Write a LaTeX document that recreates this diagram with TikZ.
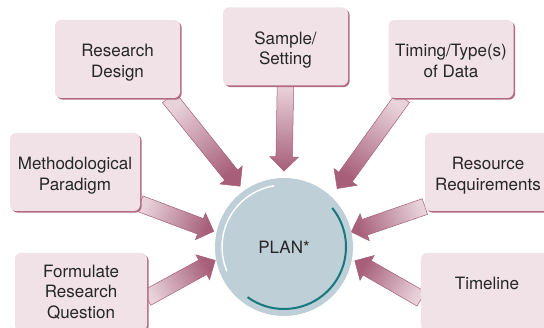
\documentclass[tikz,border=0pt]{standalone}
\usepackage{fontspec}
\setmainfont{TeX Gyre Heros}
\usetikzlibrary{calc,shapes.arrows,shadows,backgrounds}

\definecolor{boxfill}{HTML}{F0E2E6}
\definecolor{boxedge}{HTML}{B06A84}
\definecolor{arrdark}{HTML}{A65E79}
\definecolor{arrlight}{HTML}{E9D3DB}
\definecolor{planfill}{HTML}{BECFD7}
\definecolor{planarc}{HTML}{16797D}
\definecolor{ink}{HTML}{262626}

% block arrow from #1 (tail) to #2 (tip), kept behind the boxes
\newcommand\feedarrow[2]{%
  \begin{pgfonlayer}{background}
  \path let \p1=(#1), \p2=(#2), \n1={atan2(\y2-\y1,\x2-\x1)},
            \n2={veclen(\x2-\x1,\y2-\y1)} in
    node[feed, minimum height=\n2, rotate=\n1, shading angle=\n1+90]
      at ($(\p1)!.5!(\p2)$) {};
  \end{pgfonlayer}}

\begin{document}
\begin{tikzpicture}
   [x=1pt,y=1pt,
   every node/.style={text=ink, font=\fontsize{17}{20.5}\selectfont},
   topic/.style={rectangle, rounded corners=6pt, fill=boxfill, align=center,
     minimum width=125pt, minimum height=78pt, inner sep=0pt,
     drop shadow={shadow xshift=1.6pt, shadow yshift=-1.6pt, fill=boxedge, opacity=1}},
   twoline/.style={topic, text height=41pt, text depth=4pt},
   feed/.style={single arrow, draw=arrdark, line width=.5pt,
     left color=arrlight, right color=arrdark, inner xsep=0pt, inner ysep=8pt,
     single arrow head extend=6pt, single arrow tip angle=90}]

   \useasboundingbox (0,0) rectangle (544,328);

   \node[twoline] (rd) at (117.5,269) {Research\\Design};
   \node[twoline] (ss) at (285.5,281.5) {Sample/\\Setting};
   \node[twoline] (tt) at (451,269) {Timing/Type(s)\\of Data};
   \node[twoline, minimum width=130pt] (mp) at (75,156) {Methodological\\Paradigm};
   \node[twoline, minimum width=126pt] (rr) at (488,156) {Resource\\Requirements};
   \node[topic, minimum width=132pt] (fq) at (81,36) {Formulate\\Research\\Question};
   \node[topic, minimum width=132pt, text depth=18pt] (tl) at (487,36) {Timeline};

   \node[circle, fill=planfill, minimum size=138pt, inner sep=0pt] (plan) at (284,81) {PLAN*};
   \draw[white, line width=1.4pt] ($(plan.center)+(99:62pt)$)
     arc[start angle=99, end angle=203, radius=62pt];
   \draw[planarc, line width=2pt] ($(plan.center)+(39:62pt)$)
     arc[start angle=39, end angle=-126, radius=62pt];

   \feedarrow{$(rd.south east)+(-14,4)$}{$(plan.center)!79pt!(plan.126)$}
   \feedarrow{$(ss.south)+(0,4)$}{$(plan.center)!80pt!(plan.90)$}
   \feedarrow{$(tt.south west)+(17,4)$}{$(plan.center)!83pt!(plan.48)$}
   \feedarrow{$(mp.south east)+(-4,9)$}{$(plan.center)!76pt!(plan.167)$}
   \feedarrow{$(rr.south west)+(4,6)$}{$(plan.center)!73pt!(plan.13.5)$}
   \feedarrow{$(fq.east)+(-4,-8)$}{$(plan.center)!74pt!(plan.192)$}
   \feedarrow{$(tl.west)+(4,-9)$}{$(plan.center)!76pt!(plan.348)$}
\end{tikzpicture}
\end{document}
